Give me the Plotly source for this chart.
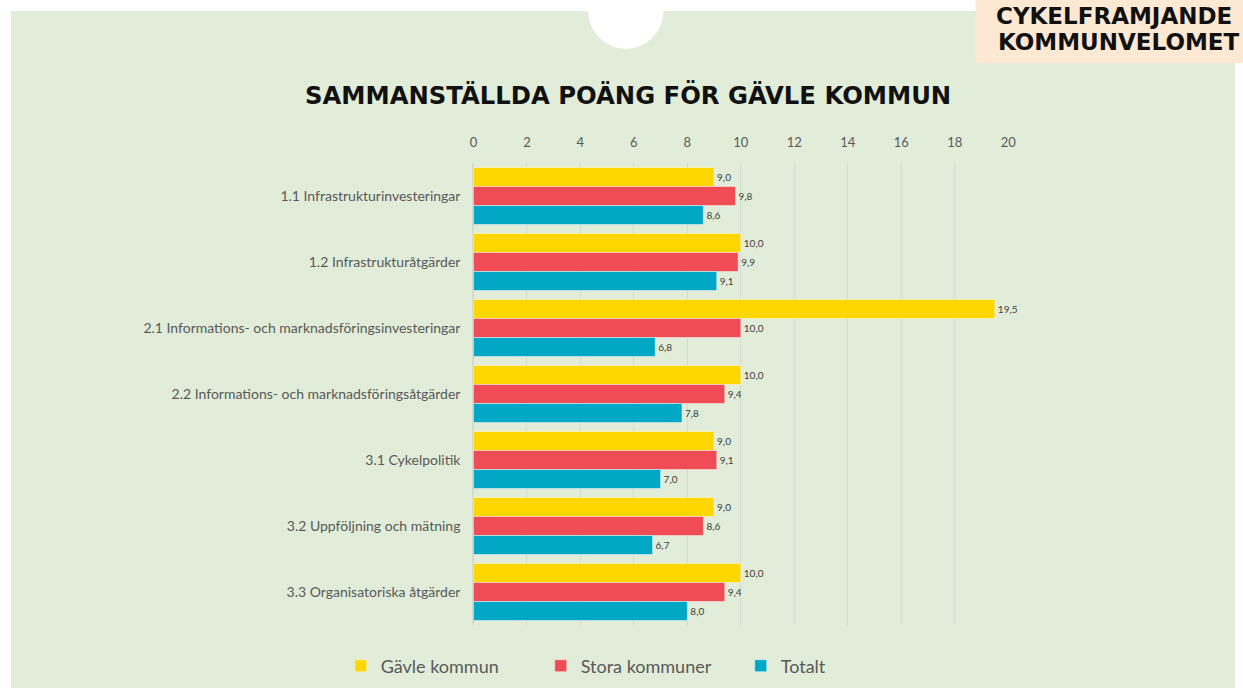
import plotly.graph_objects as go

categories = [
    "1.1 Infrastrukturinvesteringar",
    "1.2 Infrastrukturåtgärder",
    "2.1 Informations- och marknadsföringsinvesteringar",
    "2.2 Informations- och marknadsföringsåtgärder",
    "3.1 Cykelpolitik",
    "3.2 Uppföljning och mätning",
    "3.3 Organisatoriska åtgärder",
]
gavle = [9.0, 10.0, 19.5, 10.0, 9.0, 9.0, 10.0]
stora = [9.8, 9.9, 10.0, 9.4, 9.1, 8.6, 9.4]
totalt = [8.6, 9.1, 6.8, 7.8, 7.0, 6.7, 8.0]
series_names = ["Gävle kommun", "Stora kommuner", "Totalt"]
colors = ["#FFD700", "#EF4C56", "#00A8C6"]
x_ticks = [0, 2, 4, 6, 8, 10, 12, 14, 16, 18, 20]

W, H = 1243, 688
def px(x): return x / W
def py(y): return 1 - y / H

fig = go.Figure()
for name, vals, col in zip(series_names, [gavle, stora, totalt], colors):
    fig.add_trace(go.Bar(
        y=categories, x=vals, name=name, orientation="h",
        marker=dict(color=col, line=dict(color="rgba(255,255,255,0.45)", width=1)),
        texttemplate="%{x:.1f}", textposition="outside",
        textfont=dict(family="Lato", size=10, color="#404040"),
        cliponaxis=False,
    ))

fig.update_layout(
    width=W, height=H,
    margin=dict(l=0, r=0, t=0, b=0),
    paper_bgcolor="white",
    plot_bgcolor="rgba(0,0,0,0)",
    separators=", ",
    barmode="group",
    bargap=0.136,
    bargroupgap=0,
    showlegend=True,
    legend=dict(
        orientation="h", x=px(340), xanchor="left", y=py(666), yanchor="middle",
        font=dict(family="Lato", size=18, color="#595959"),
        traceorder="normal", entrywidth=155, entrywidthmode="pixels",
        bgcolor="rgba(0,0,0,0)",
    ),
    xaxis=dict(
        domain=[px(474), px(1014)], range=[0, 20], side="top",
        tickvals=x_ticks, showgrid=True, gridcolor="#D5D9D2", gridwidth=1,
        zeroline=True, zerolinecolor="#D5D9D2", showline=False,
        tickfont=dict(family="Lato", size=13, color="#595959"),
        ticks="", ticklabelstandoff=12, fixedrange=True,
    ),
    yaxis=dict(
        domain=[py(625), py(163)], autorange="reversed",
        tickfont=dict(family="Lato", size=14, color="#595959"),
        ticks="", ticklabelstandoff=12, showgrid=False, showline=False,
        fixedrange=True,
    ),
    shapes=[
        dict(type="rect", xref="paper", yref="paper", x0=px(7), x1=1, y0=0, y1=py(11),
             fillcolor="#E1EDD9", line=dict(width=0), layer="below"),
        dict(type="circle", xref="paper", yref="paper", x0=px(590), x1=px(666),
             y0=py(49), y1=py(-27), fillcolor="white", line=dict(width=0), layer="below"),
        dict(type="rect", xref="paper", yref="paper", x0=px(981), x1=1.05, y0=py(63), y1=1.02,
             fillcolor="#FCE8D3", line=dict(width=0), layer="below"),
    ],
    annotations=[
        dict(text="<b>SAMMANSTÄLLDA POÄNG FÖR GÄVLE KOMMUN</b>", xref="paper", yref="paper",
             x=px(630), y=py(95), xanchor="center", yanchor="middle", showarrow=False,
             font=dict(family="DejaVu Sans", size=24.3, color="#111111")),
        dict(text="<b>CYKELFRAMJANDE</b>", xref="paper", yref="paper",
             x=px(1000), y=py(16), xanchor="left", yanchor="middle", showarrow=False,
             font=dict(family="DejaVu Sans", size=23, color="#111111")),
        dict(text="<b>KOMMUNVELOMET</b>", xref="paper", yref="paper",
             x=px(1002), y=py(42), xanchor="left", yanchor="middle", showarrow=False,
             font=dict(family="DejaVu Sans", size=23, color="#111111")),
    ],
)

fig.write_html("out.html", config={"displayModeBar": False},
               post_script="document.body.style.margin='0';document.body.style.padding='0';")
